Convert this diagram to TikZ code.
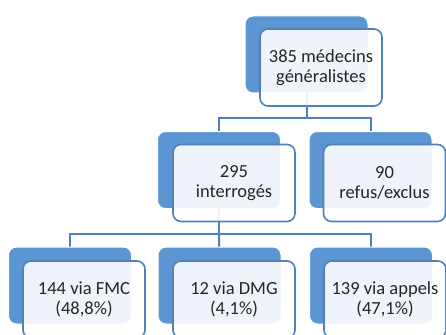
\documentclass[tikz,border=0pt]{standalone}
\usepackage{fontspec}
\setmainfont{Carlito}
\definecolor{backblue}{HTML}{5B96D3}
\definecolor{lineblue}{HTML}{4F81BD}
\definecolor{txt}{HTML}{262626}
\begin{document}
\begin{tikzpicture}[x=1pt,y=-1pt,
  backbox/.style={rectangle, rounded corners=8pt, fill=backblue, draw=white, line width=1pt,
    minimum width=123pt, minimum height=77pt, inner sep=0pt},
  frontbox/.style={rectangle, rounded corners=8pt, fill=white, fill opacity=0.9, text opacity=1,
    draw=lineblue, line width=1.6pt, minimum width=122pt, minimum height=77pt, inner sep=0pt,
    align=center, text=txt, font=\fontsize{18.5}{20}\selectfont},
  conn/.style={draw=lineblue, line width=2pt}]
\useasboundingbox (0,0) rectangle (446,334);
\clip (0,0) rectangle (446,334);
% back boxes
\node[backbox] (tb) at (306.5,54.5) {};
\node[backbox] (mb1) at (219,170) {};
\node[backbox] (mb2) at (370.5,170) {};
\node[backbox] (bb1) at (70,285.5) {};
\node[backbox] (bb2) at (219.5,285.5) {};
\node[backbox] (bb3) at (371,285.5) {};
% bus coordinates
\coordinate (bus1) at (0,118);
\coordinate (bus2) at (0,234);
% connectors
\draw[conn] (tb.center) -- (tb.center |- bus1) -| (mb1.center);
\draw[conn] (tb.center |- bus1) -| (mb2.center);
\draw[conn] (mb1.center) -- (mb1.center |- bus2) -| (bb1.center);
\draw[conn] (mb1.center |- bus2) -| (bb3.center);
\draw[conn] (mb1.center |- bus2) -- (bb2.center);
% redraw back boxes over connectors
\node[backbox] at (tb) {};
\node[backbox] at (mb1) {};
\node[backbox] at (mb2) {};
\node[backbox] at (bb1) {};
\node[backbox] at (bb2) {};
\node[backbox] at (bb3) {};
% front boxes
\node[frontbox] (tf) at (321,67.5) {385 médecins\\généralistes};
\node[frontbox] (mf1) at (234,183) {295\\interrogés};
\node[frontbox] (mf2) at (384.5,183) {90\\refus/exclus};
\node[frontbox] (bf1) at (84,299.5) {144 via FMC\\(48,8\%)};
\node[frontbox] (bf2) at (234,299.5) {12 via DMG\\(4,1\%)};
\node[frontbox] (bf3) at (385,299.5) {139 via appels\\(47,1\%)};
\end{tikzpicture}
\end{document}
